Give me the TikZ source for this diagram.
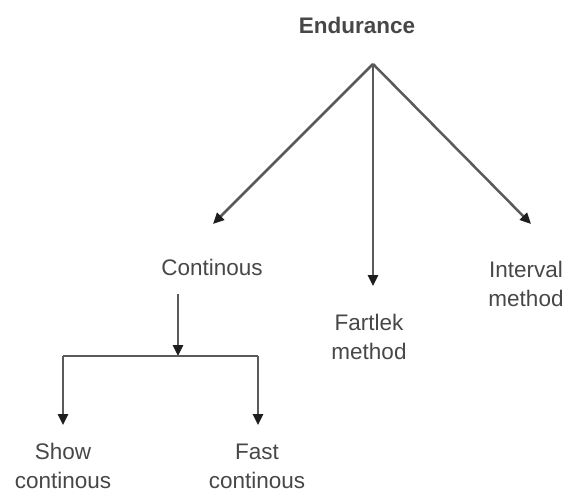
\documentclass[tikz,border=0pt]{standalone}
\usepackage{fontspec}
\setmainfont{Liberation Sans}
\usetikzlibrary{arrows.meta}
\definecolor{txtgray}{HTML}{474747}
\definecolor{linegray}{HTML}{5A5A5A}
\definecolor{headgray}{HTML}{1E1E1E}
\begin{document}
\begin{tikzpicture}[x=1pt,y=1pt,
  label/.style={text=txtgray,font=\fontsize{22.5}{29}\selectfont,align=center,inner sep=0pt},
  conn/.style={draw=linegray,line width=2.5pt,
    -{Triangle[length=11pt,width=10pt,fill=headgray,color=headgray]}},
  bar/.style={draw=linegray,line width=2.5pt}]
\useasboundingbox (0,0) rectangle (564,-494);
% labels
\node[label,font=\bfseries\fontsize{22.5}{29}\selectfont] (end) at (357,-25) {Endurance};
\node[label] (cont) at (212,-267) {Continous};
\node[label] (fart) at (369,-337) {Fartlek\\method};
\node[label] (intv) at (526,-284) {Interval\\method};
\node[label] (slow) at (63,-466) {Show\\continous};
\node[label] (fast) at (257,-466) {Fast\\continous};
% branch points
\coordinate (apex) at (373,-64);
\coordinate (tipC) at (213,-224);
\coordinate (tipF) at (373,-286);
\coordinate (tipI) at (531,-224);
\coordinate (cstart) at (178,-294);
\coordinate (split) at (178,-356);
\coordinate (barL) at (63,-356);
\coordinate (barR) at (258,-356);
\coordinate (tipS) at (63,-425);
\coordinate (tipT) at (258,-425);
% connectors from Endurance
\draw[conn] (apex) -- (tipC);
\draw[conn] (apex) -- (tipF);
\draw[conn] (apex) -- (tipI);
% split under Continous
\draw[conn] (cstart) -- (split);
\draw[bar] (barL) -- (barR);
\draw[conn] (barL) -- (tipS);
\draw[conn] (barR) -- (tipT);
\end{tikzpicture}
\end{document}
